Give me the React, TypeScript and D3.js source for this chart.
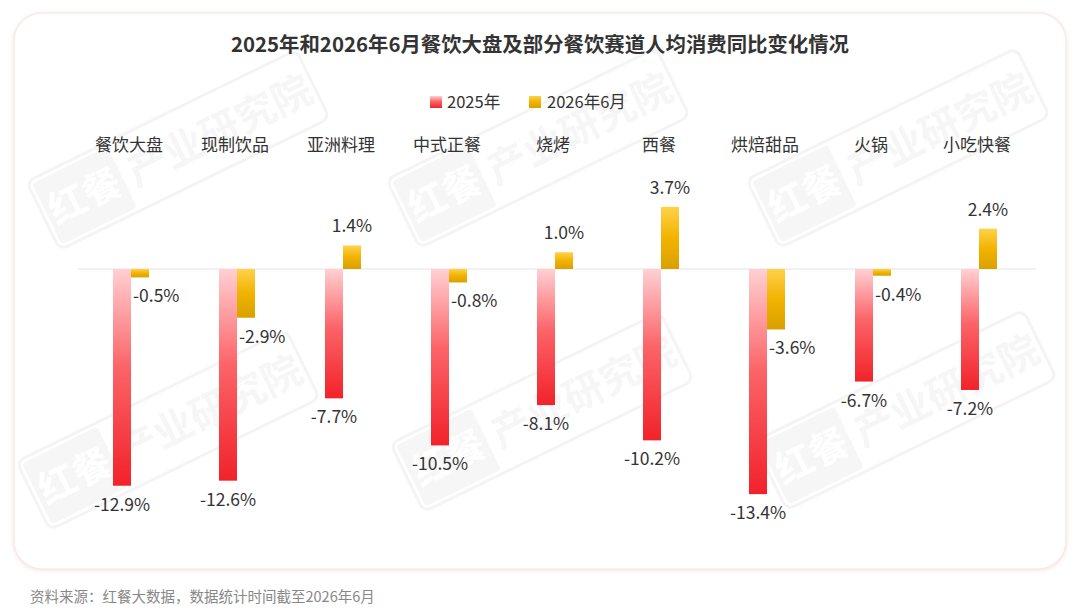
import React from "react";
import * as d3 from "d3";

const categories = ["餐饮大盘", "现制饮品", "亚洲料理", "中式正餐", "烧烤", "西餐", "烘焙甜品", "火锅", "小吃快餐"];
const values2025 = [-12.9, -12.6, -7.7, -10.5, -8.1, -10.2, -13.4, -6.7, -7.2];
const values2026 = [-0.5, -2.9, 1.4, -0.8, 1.0, 3.7, -3.6, -0.4, 2.4];
const seriesNames = ["2025年", "2026年6月"];

const W = 1080;
const H = 613;
const FONT = "'Noto Sans CJK SC', 'Noto Sans', sans-serif";

const watermarks = [
  [178, 150], [538, 148], [898, 148],
  [168, 430], [542, 412], [905, 410],
];

function Watermark({ x, y }: { x: number; y: number }) {
  return (
    <g transform={`translate(${x},${y}) rotate(-26)`} opacity={0.75}>
      <rect x={-150} y={-38} width={300} height={76} rx={8} fill="none" stroke="#f1f1f1" strokeWidth={3} />
      <rect x={-146} y={-34} width={84} height={68} rx={4} fill="#f4f4f4" />
      <text x={-104} y={14} textAnchor="middle" fontSize={38} fontWeight={700} fill="#fff" fontFamily={FONT}>红餐</text>
      <text x={-54} y={15} fontSize={40} fontWeight={700} fill="#f3f3f3" fontFamily={FONT}>产业研究院</text>
    </g>
  );
}

export default function App() {
  const x = d3.scaleBand<string>().domain(categories).range([78, 1032]);
  const inner = d3.scaleBand<string>().domain(seriesNames).range([-18, 18]);
  const y = d3.scaleLinear().domain([-14, 4]).range([269 + 14 * 16.8, 269 - 4 * 16.8]);
  const y0 = y(0);
  const fmt = (v: number) => `${v.toFixed(1)}%`;

  return (
    <svg width={W} height={H} style={{ position: "absolute", left: 0, top: 0, background: "#fff" }} fontFamily={FONT}>
      <defs>
        <linearGradient id="gRed" x1="0" y1="0" x2="0" y2="1">
          <stop offset="0%" stopColor="#ffd0d3" />
          <stop offset="45%" stopColor="#fb6468" />
          <stop offset="100%" stopColor="#f2222a" />
        </linearGradient>
        <linearGradient id="gYel" x1="0" y1="0" x2="0" y2="1">
          <stop offset="0%" stopColor="#ffd24a" />
          <stop offset="50%" stopColor="#f2b300" />
          <stop offset="100%" stopColor="#d9a000" />
        </linearGradient>
        <filter id="shadow" x="-5%" y="-5%" width="110%" height="110%">
          <feDropShadow dx="0" dy="1" stdDeviation="2" floodColor="#e9c9c4" floodOpacity="0.5" />
        </filter>
      </defs>

      <rect x={14} y={13} width={1052} height={556} rx={28} fill="#fff" stroke="#f6ebe9" strokeWidth={1.5} filter="url(#shadow)" />

      {watermarks.map(([wx, wy], i) => (
        <Watermark key={i} x={wx} y={wy} />
      ))}

      <text x={540} y={52} textAnchor="middle" fontSize={20.4} fontWeight={700} fill="#333">
        2025年和2026年6月餐饮大盘及部分餐饮赛道人均消费同比变化情况
      </text>

      {/* legend */}
      <g transform="translate(430,94)">
        <rect x={0} y={2} width={12} height={12} fill="url(#gRed)" />
        <text x={17} y={14} fontSize={16.5} fill="#333">{seriesNames[0]}</text>
        <rect x={99} y={2} width={12} height={12} fill="url(#gYel)" />
        <text x={117} y={14} fontSize={16.5} fill="#333">{seriesNames[1]}</text>
      </g>

      {/* category labels */}
      {categories.map((c) => (
        <text key={c} x={(x(c) ?? 0) + x.bandwidth() / 2 - 2} y={151} textAnchor="middle" fontSize={17} fill="#333">
          {c}
        </text>
      ))}

      <line x1={78} x2={1036} y1={y0} y2={y0} stroke="#e3e3e3" strokeWidth={1} />

      {categories.map((c, i) => {
        const cx = (x(c) ?? 0) + x.bandwidth() / 2;
        const rx = cx + (inner(seriesNames[0]) ?? 0);
        const yx = cx + (inner(seriesNames[1]) ?? 0);
        const bw = inner.bandwidth();
        const v1 = values2025[i];
        const v2 = values2026[i];
        return (
          <g key={c}>
            <rect x={rx} y={Math.min(y(v1), y0)} width={bw} height={Math.abs(y(v1) - y0)} fill="url(#gRed)" />
            <rect x={yx} y={Math.min(y(v2), y0)} width={bw} height={Math.abs(y(v2) - y0)} fill="url(#gYel)" />
            <text x={rx + bw / 2} y={y(v1) + 25} textAnchor="middle" fontSize={17.5} fill="#333">{fmt(v1)}</text>
            {v2 >= 0 ? (
              <text x={yx + bw / 2} y={y(v2) - 13} textAnchor="middle" fontSize={17.5} fill="#333">{fmt(v2)}</text>
            ) : (
              <text x={yx + 2} y={y(v2) + 25} textAnchor="start" fontSize={17.5} fill="#333">{fmt(v2)}</text>
            )}
          </g>
        );
      })}

      <text x={30} y={602} fontSize={14.5} fill="#888">资料来源：红餐大数据，数据统计时间截至2026年6月</text>
    </svg>
  );
}
